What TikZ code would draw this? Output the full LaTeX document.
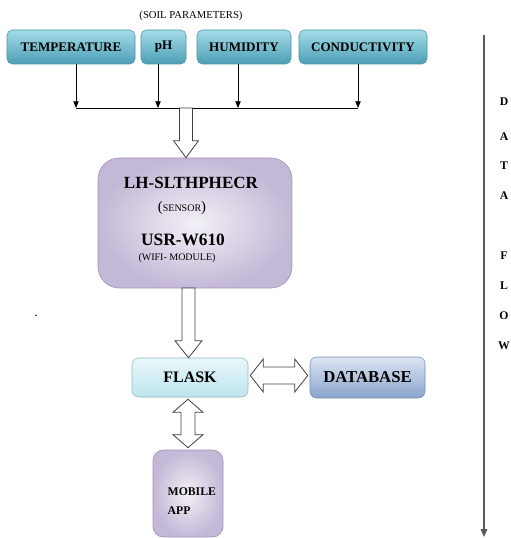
\documentclass[tikz,border=0pt]{standalone}
\usepackage{fontspec}
\setmainfont{Liberation Serif}
\usetikzlibrary{arrows.meta,calc}

\definecolor{paramtop}{HTML}{A3DCE8}
\definecolor{parambot}{HTML}{4E9FB6}
\definecolor{paramedge}{HTML}{4A93A8}
\definecolor{lavin}{HTML}{F3F0F6}
\definecolor{lavout}{HTML}{C4B8D7}
\definecolor{lavedge}{HTML}{A395BA}
\definecolor{flasktop}{HTML}{E8F7FA}
\definecolor{flaskbot}{HTML}{BDE5EE}
\definecolor{dbtop}{HTML}{DCE5F2}
\definecolor{dbbot}{HTML}{8AA4CC}

% hollow block arrows: #1 start, #2 tip, #3 half shaft, #4 half head, #5 head length
\newcommand{\blockdown}[5]{%
  \draw[blockarrow] ($(#1)+(-#3,0)$) -- ($(#2)+(-#3,-#5)$) -- ($(#2)+(-#4,-#5)$) -- (#2)
    -- ($(#2)+(#4,-#5)$) -- ($(#2)+(#3,-#5)$) -- ($(#1)+(#3,0)$) -- cycle;}
\newcommand{\blockvboth}[5]{%
  \draw[blockarrow] (#1) -- ($(#1)+(#4,#5)$) -- ($(#1)+(#3,#5)$) -- ($(#2)+(#3,-#5)$)
    -- ($(#2)+(#4,-#5)$) -- (#2) -- ($(#2)+(-#4,-#5)$) -- ($(#2)+(-#3,-#5)$)
    -- ($(#1)+(-#3,#5)$) -- ($(#1)+(-#4,#5)$) -- cycle;}
\newcommand{\blockhboth}[5]{%
  \draw[blockarrow] (#1) -- ($(#1)+(#5,-#4)$) -- ($(#1)+(#5,-#3)$) -- ($(#2)+(-#5,-#3)$)
    -- ($(#2)+(-#5,-#4)$) -- (#2) -- ($(#2)+(-#5,#4)$) -- ($(#2)+(-#5,#3)$)
    -- ($(#1)+(#5,#3)$) -- ($(#1)+(#5,#4)$) -- cycle;}

\tikzset{
  param/.style={rounded corners=4pt, draw=paramedge, line width=0.4pt,
    top color=paramtop, bottom color=parambot, minimum height=25.5pt, inner sep=0pt,
    font=\fontsize{9.8}{11}\selectfont\bfseries},
  lavbox/.style={draw=lavedge, line width=0.5pt, inner color=lavin, outer color=lavout, inner sep=0pt},
  feed/.style={line width=0.6pt, -{Triangle[width=4pt,length=5pt]}},
  blockarrow/.style={draw=black!75, line width=0.6pt, fill=white, line join=miter},
  flowletter/.style={font=\fontsize{8.8}{10}\selectfont\bfseries}
}

\begin{document}
\begin{tikzpicture}[x=0.75pt,y=-0.75pt]
\useasboundingbox (0,0) rectangle (510,538);

% soil parameters
\node (soil) at (191,16) {\fontsize{8}{9}\selectfont (SOIL PARAMETERS)};
\node[param, minimum width=96pt] (temp) at (71,47) {TEMPERATURE};
\node[param, minimum width=33.75pt] (ph) at (163.5,47) {pH};
\node[param, minimum width=70.5pt] (hum) at (244,47) {HUMIDITY};
\node[param, minimum width=96pt] (cond) at (363,47) {CONDUCTIVITY};

\coordinate (bus1) at (76,108);
\coordinate (bus2) at (158,108);
\coordinate (bus3) at (238,108);
\coordinate (bus4) at (358,108);
\draw[feed] (bus1 |- temp.south) -- (bus1);
\draw[feed] (bus2 |- ph.south) -- (bus2);
\draw[feed] (bus3 |- hum.south) -- (bus3);
\draw[feed] (bus4 |- cond.south) -- (bus4);
\draw[line width=0.6pt] (bus1) -- (bus4);

% sensor and wifi module
\node[lavbox, rounded corners=16pt, minimum width=145.5pt, minimum height=97.5pt] (sens) at (195,223) {};
\node[font=\fontsize{12.8}{14}\selectfont\bfseries] (sensname) at (191,183) {LH-SLTHPHECR};
\node (senstag) at (182,208) {\fontsize{11}{12}\selectfont(\fontsize{7.5}{9}\selectfont SENSOR\fontsize{11}{12}\selectfont)};
\node[font=\fontsize{13}{14}\selectfont\bfseries] (wifiname) at (183,240) {USR-W610};
\node[font=\fontsize{7.5}{9}\selectfont] (wifitag) at (177,258) {(WIFI- MODULE)};

\coordinate (inlet) at (186,108);
\blockdown{inlet}{sens.north -| inlet}{6.5}{12.5}{17}

% server side
\node[rounded corners=5pt, draw=flaskbot!80!black, line width=0.4pt, top color=flasktop, bottom color=flaskbot,
  minimum width=87pt, minimum height=29.25pt, font=\fontsize{12}{14}\selectfont\bfseries] (flask) at (190,377.5) {FLASK};
\node[rounded corners=5pt, draw=dbbot!85!black, line width=0.4pt, top color=dbtop, bottom color=dbbot,
  minimum width=86.25pt, minimum height=30.75pt, font=\fontsize{12.5}{14}\selectfont\bfseries] (db) at (367.5,377.5) {DATABASE};

\coordinate (outlet) at (188.5,288);
\blockdown{outlet}{flask.north -| outlet}{6.5}{13.5}{17}
\blockhboth{$(flask.east)+(2,-2)$}{$(db.west)+(-2,-2)$}{8.5}{16.5}{13}

% mobile app
\node[lavbox, rounded corners=8pt, minimum width=52.5pt, minimum height=65.25pt] (app) at (188,493.5) {};
\node[font=\fontsize{8.8}{10}\selectfont\bfseries, anchor=west, align=left] (appname) at (163,501) {MOBILE\\[4pt]APP};
\coordinate (link) at (188,420);
\blockvboth{$(flask.south -| link)+(0,2)$}{$(app.north -| link)+(0,-2)$}{7}{15}{13}

\node (stray) at (36,316) {.};

% data flow
\coordinate (flowtop) at (484,35);
\coordinate (flowend) at (484,537);
\draw[black!65, line width=0.8pt, -{Triangle[width=5pt,length=6pt]}] (flowtop) -- (flowend);
\foreach \ch/\y [count=\i] in {D/102, A/137, T/166, A/196, F/256, L/286, O/316, W/346}
  \node[flowletter] (flow\i) at (504,\y) {\ch};
\end{tikzpicture}
\end{document}
